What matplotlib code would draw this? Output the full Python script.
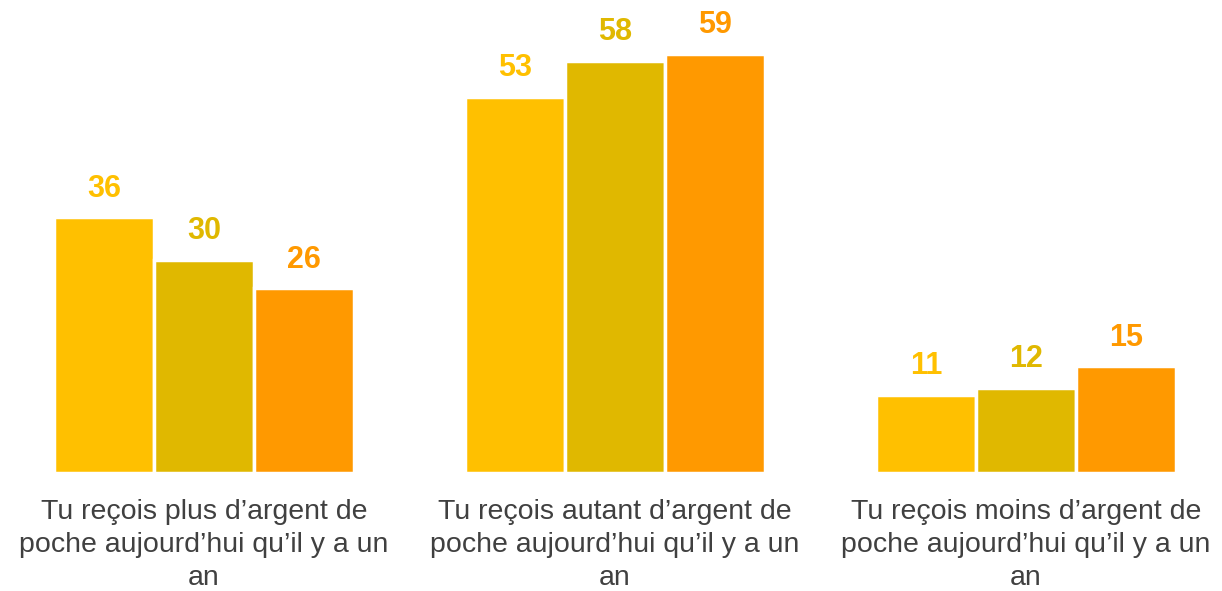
import numpy as np
import matplotlib.pyplot as plt
import matplotlib.transforms as mtransforms

plt.rcParams['font.family'] = ['Liberation Sans', 'DejaVu Sans']

categories = [
    "Tu reçois plus d’argent de\npoche aujourd’hui qu’il y a un\nan",
    "Tu reçois autant d’argent de\npoche aujourd’hui qu’il y a un\nan",
    "Tu reçois moins d’argent de\npoche aujourd’hui qu’il y a un\nan",
]
series_a = [36, 53, 11]
series_b = [30, 58, 12]
series_c = [26, 59, 15]
colors = ["#FFC000", "#E0B800", "#FF9900"]

fig = plt.figure(figsize=(12.22, 5.91), dpi=100)
ax = fig.add_axes([0, 0.1997, 1, 0.8003])

x = np.arange(len(categories))
slot = 100 / 411
for i, vals in enumerate([series_a, series_b, series_c]):
    pos = x + (i - 1) * slot
    ax.bar(pos, vals, width=slot, color=colors[i], edgecolor="white", linewidth=2.5)
    for px, v in zip(pos, vals):
        ax.annotate(str(v), (px, v), xytext=(0, 15), textcoords="offset points",
                    ha="center", va="baseline", fontsize=22, fontweight="bold",
                    color=colors[i])

# category labels under each group
trans = mtransforms.blended_transform_factory(ax.transData, ax.transAxes)
for xi, lab in zip(x, categories):
    ax.text(xi, -0.055, lab, transform=trans, ha="center", va="top",
            fontsize=20.5, color="#404040", linespacing=1.36)

ax.set_xlim(-204 / 411, (1222 - 204) / 411)
ax.set_ylim(0, 473 / 7.1)
ax.axis("off")

fig.savefig("out.png", dpi=100)
